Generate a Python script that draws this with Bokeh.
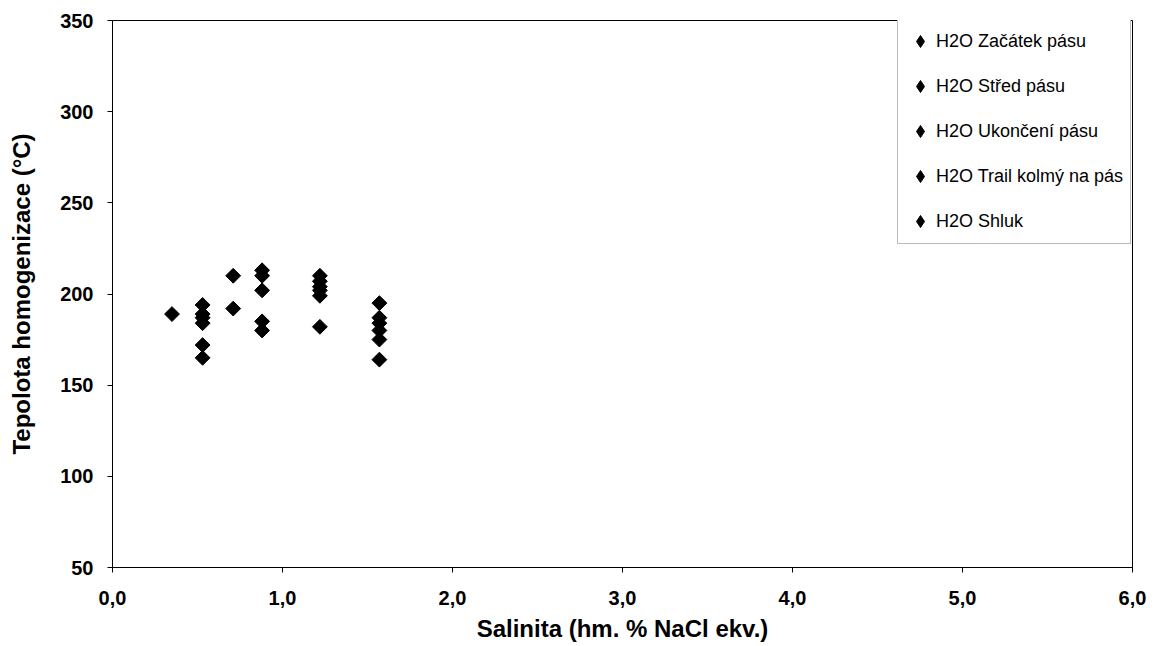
import math
from bokeh.plotting import figure
from bokeh.models import FixedTicker, Legend, LegendItem, Range1d
from bokeh.embed import file_html
from bokeh.resources import INLINE

# ---- data ----
series_names = ["H2O Začátek pásu", "H2O Střed pásu", "H2O Ukončení pásu",
                "H2O Trail kolmý na pás", "H2O Shluk"]
sal_zacatek = [0.35, 0.53, 0.53, 0.53, 0.53, 0.53, 0.53]
th_zacatek = [189, 194, 189, 187, 184, 172, 165]
sal_stred = [0.71, 0.71, 0.88, 0.88, 0.88, 0.88, 0.88]
th_stred = [210, 192, 213, 210, 202, 185, 180]
sal_ukonceni = [1.22, 1.22, 1.22, 1.22, 1.22, 1.22]
th_ukonceni = [210, 207, 204, 202, 199, 182]
sal_trail = [1.57, 1.57, 1.57]
th_trail = [195, 187, 184]
sal_shluk = [1.57, 1.57, 1.57]
th_shluk = [180, 175, 164]

x_ticks = [0, 1, 2, 3, 4, 5, 6]
x_tick_labels = ["0,0", "1,0", "2,0", "3,0", "4,0", "5,0", "6,0"]
y_ticks = [50, 100, 150, 200, 250, 300, 350]

FONT = "Liberation Sans"

p = figure(width=1154, height=646, output_backend="svg", toolbar_location=None,
           x_range=Range1d(0, 6), y_range=Range1d(50, 350),
           min_border_left=112, min_border_right=22, min_border_top=20, min_border_bottom=79)
p.grid.visible = False
p.outline_line_color = "black"
p.outline_line_width = 1
p.background_fill_color = "white"
p.border_fill_color = "white"

for ax in (p.xaxis[0], p.yaxis[0]):
    ax.axis_line_color = "black"
    ax.major_tick_line_color = "black"
    ax.major_tick_out = 5
    ax.major_tick_in = 0
    ax.minor_tick_line_color = None
    ax.major_label_text_font = FONT
    ax.major_label_text_font_style = "bold"
    ax.major_label_text_font_size = "20px"
    ax.major_label_text_color = "black"
    ax.axis_label_text_font = FONT
    ax.axis_label_text_font_style = "bold"
    ax.axis_label_text_font_size = "24px"
    ax.axis_label_text_color = "black"

p.xaxis.ticker = FixedTicker(ticks=x_ticks)
p.xaxis.major_label_overrides = {t: l for t, l in zip(x_ticks, x_tick_labels)}
p.xaxis.major_label_standoff = 18
p.xaxis.axis_label = "Salinita (hm. % NaCl ekv.)"
p.xaxis.axis_label_standoff = 7
p.yaxis.ticker = FixedTicker(ticks=y_ticks)
p.yaxis.major_label_standoff = 14
p.yaxis.axis_label = "Tepolota homogenizace (°C)"
p.yaxis.axis_label_standoff = 22

all_series = [(sal_zacatek, th_zacatek), (sal_stred, th_stred), (sal_ukonceni, th_ukonceni),
              (sal_trail, th_trail), (sal_shluk, th_shluk)]
NAN = float("nan")
items = []
for name, (xs, ys) in zip(series_names, all_series):
    p.scatter(xs, ys, marker="square", size=10.5, angle=math.pi / 4,
              fill_color="black", line_color="black")
    # legend key drawn as a diamond marker (a single NaN point, never shown in the plot)
    key = p.scatter(x=[NAN], y=[NAN], marker="diamond", size=12,
                    fill_color="black", line_color="black")
    items.append(LegendItem(label=name, renderers=[key]))

legend = Legend(items=items, location=(785, 323))
legend.label_text_font = FONT
legend.label_text_font_size = "18px"
legend.label_text_color = "black"
legend.spacing = 15
legend.padding = 7
legend.glyph_width = 30
legend.glyph_height = 30
legend.label_standoff = 1
legend.label_height = 22
legend.border_line_color = "#777777"
legend.border_line_width = 1
legend.background_fill_color = "white"
legend.background_fill_alpha = 1.0
p.add_layout(legend)

open("out.html", "w").write(file_html(p, INLINE))
